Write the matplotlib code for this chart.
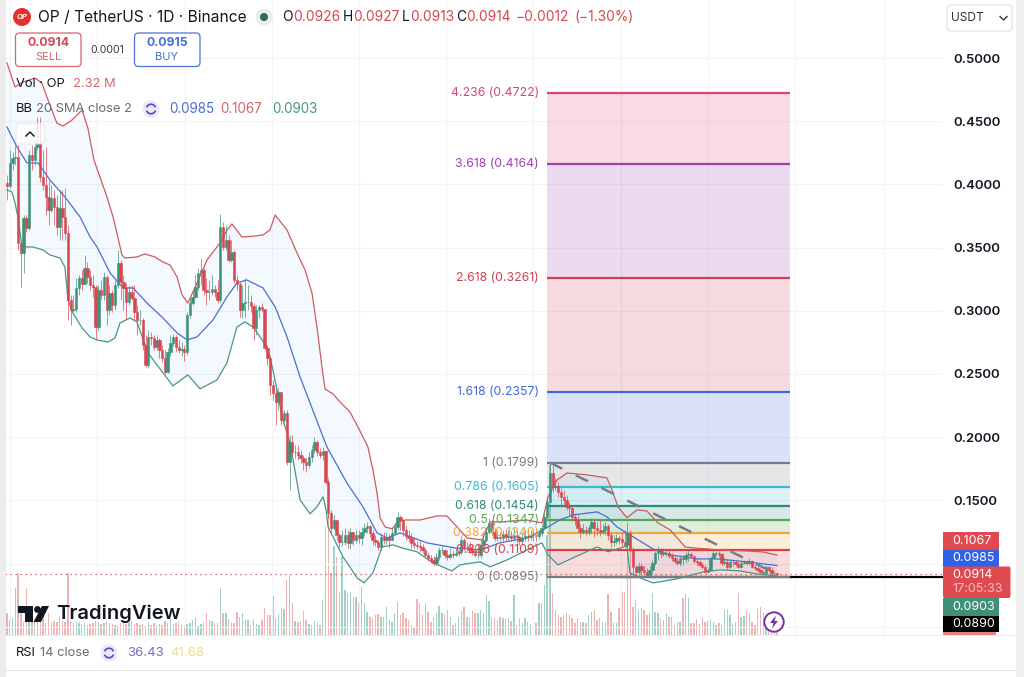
import numpy as np
import matplotlib
matplotlib.use('Agg')
import matplotlib.pyplot as plt
import matplotlib.transforms as mtransforms
from matplotlib.patches import Circle, Rectangle, FancyBboxPatch, Polygon, Arc

plt.rcParams['font.family'] = ['Inter', 'DejaVu Sans']

W, H = 1024, 677
RED = '#d7474f'
GREEN = '#3f9079'
BLUE = '#4a6fd4'

# daily candles, OP / USDT
first_open = 0.4012
closes = [
    .3987,.4169,.4209,.4217,.3537,.3457,.3734,.3655,.4233,.4193,.4296,.4328,.4059,.3995,.3900,.3798,.3893,.3821,.3663,.3813,.3742,.3616,
    .3086,.3007,.3014,.3181,.3260,.3212,.3339,.3268,.3204,.3188,.2872,.3165,.3125,.3268,.3007,.3141,.3046,.3204,.3378,.3228,.3181,.3070,
    .3149,.3102,.2991,.2927,.2927,.2730,.2571,.2793,.2785,.2714,.2769,.2690,.2627,.2516,.2674,.2745,.2793,.2714,.2690,.2698,.2674,.2967,
    .3062,.3109,.3188,.3299,.3323,.3165,.3149,.3149,.3173,.3149,.3086,.3663,.3505,.3560,.3402,.3465,.3244,.3212,.3007,.3062,.3070,.3070,
    .3038,.2864,.3007,.3030,.3014,.2706,.2627,.2413,.2350,
    .2279,.2358,.2136,.2192,.1804,.1962,.1883,.1883,.1859,.1836,.1804,.1780,.1844,.1899,.1962,.1883,.1859,.1891,.1646,.1400,.1282,.1345,
    .1226,.1171,.1171,.1226,.1163,.1250,.1187,.1226,.1203,.1250,.1282,.1298,.1242,.1187,.1171,.1131,.1211,.1187,.1211,.1187,.1242,.1290,
    .1369,.1345,.1266,
    .1218,.1203,.1163,.1147,.1139,.1131,.1108,.1068,.1044,.1029,.1005,.1052,.1108,.1108,.1068,.1052,.1076,.1068,.1084,.1092,.1187,.1131,
    .1131,.1108,.1092,.1068,.1068,.1147,.1187,.1250,.1321,.1250,.1203,.1211,.1203,.1234,.1211,.1218,.1203,.1226,.1211,.1179,.1203,.1218,
    .1211,.1226,.1226,.1218,.1242,.1282,.1369,.1487,.1717,
    .1606,.1614,.1567,.1527,.1503,.1448,.1440,.1369,.1345,.1282,.1250,.1266,.1250,.1282,.1329,.1282,.1266,.1250,.1266,.1298,.1226,.1171,
    .1179,.1203,.1195,.1171,.1147,.1242,.1116,.0973,.0934,.0981,.0950,.0934,.0910,.0950,.1005,.1084,
    .1108,.1076,.1084,.1084,.1060,.1044,.1021,.1005,.1044,.1037,.1068,.1076,.1060,.1021,.1013,.0989,.0973,.0934,.0950,.1044,.1084,.1084,
    .1076,.1005,.1013,.0973,.1013,.1013,.0997,.0973,.1005,.1013,.1005,.1021,.0973,.0965,.0950,.0934,.0926,.0973,.0950,.0926,.0926,.0914,
]
highs = [
    .4075,.4272,.4256,.4312,.4312,.3560,.3758,.3758,.4272,.4312,.4351,.4533,.4533,.4272,.4296,.4035,.3995,.3956,.3916,.3956,.3956,.3972,
    .3679,.3125,.3125,.3260,.3283,.3323,.3442,.3386,.3323,.3283,.3204,.3204,.3244,.3307,.3283,.3204,.3165,.3244,.3481,.3402,.3283,.3220,
    .3204,.3204,.3204,.3046,.3007,.2943,.2809,.2848,.2832,.2809,.2809,.2785,.2730,.2690,.2706,.2809,.2817,.2809,.2769,.2753,.2730,.2991,
    .3102,.3165,.3283,.3339,.3418,.3339,.3260,.3244,.3283,.3204,.3244,.3766,.3703,.3679,.3600,.3560,.3481,.3283,.3228,.3204,.3260,.3204,
    .3125,.3062,.3046,.3046,.3062,.3007,.2730,.2651,.2453,
    .2374,.2390,.2334,.2215,.2215,.2018,.2018,.1938,.1938,.1899,.1859,.1836,.1883,.1938,.2002,.1978,.1915,.1923,.1899,.1662,.1424,.1385,
    .1329,.1242,.1266,.1282,.1266,.1282,.1242,.1266,.1266,.1290,.1321,.1329,.1306,.1266,.1226,.1187,.1242,.1250,.1250,.1234,.1282,.1329,
    .1408,.1385,.1329,
    .1306,.1266,.1242,.1203,.1179,.1179,.1155,.1123,.1092,.1068,.1060,.1084,.1131,.1139,.1116,.1108,.1123,.1108,.1123,.1123,.1218,.1203,
    .1171,.1171,.1155,.1147,.1163,.1187,.1242,.1290,.1361,.1345,.1282,.1266,.1250,.1266,.1274,.1266,.1258,.1282,.1266,.1226,.1250,.1266,
    .1266,.1266,.1266,.1266,.1266,.1313,.1400,.1527,.1804,
    .1780,.1677,.1646,.1598,.1582,.1543,.1487,.1464,.1400,.1385,.1313,.1313,.1298,.1306,.1361,.1353,.1329,.1345,.1313,.1329,.1313,.1242,
    .1226,.1234,.1226,.1250,.1266,.1329,.1266,.1131,.0989,.1013,.1005,.0981,.0965,.0981,.1029,.1100,
    .1139,.1123,.1116,.1108,.1108,.1084,.1060,.1052,.1068,.1068,.1100,.1108,.1092,.1068,.1044,.1029,.1013,.0989,.0965,.1060,.1108,.1100,
    .1100,.1084,.1052,.1037,.1037,.1029,.1029,.1021,.1021,.1029,.1029,.1044,.1029,.0997,.0981,.0965,.0950,.0989,.0981,.0973,.0942,.0927,
]
lows = [
    .3877,.3972,.4114,.4154,.3481,.3188,.3299,.3624,.3639,.4114,.4154,.4272,.4019,.3956,.3758,.3679,.3782,.3679,.3600,.3560,.3560,.3560,
    .2927,.2888,.2991,.2991,.3125,.3165,.3228,.3220,.3165,.3109,.2769,.2848,.3086,.3086,.2888,.2967,.2991,.3007,.3181,.3086,.3007,.2927,
    .3046,.3086,.2927,.2809,.2888,.2690,.2555,.2548,.2730,.2690,.2690,.2627,.2595,.2500,.2508,.2643,.2722,.2674,.2666,.2643,.2603,.2651,
    .2943,.3046,.3102,.3165,.3204,.3125,.3046,.3086,.3125,.3109,.3062,.3070,.3481,.3481,.3386,.3386,.3220,.3165,.2951,.2943,.2951,.3007,
    .2991,.2769,.2809,.2943,.2991,.2690,.2571,.2334,.2294,
    .2097,.2215,.2097,.2120,.1780,.1582,.1851,.1836,.1820,.1796,.1741,.1725,.1757,.1804,.1875,.1851,.1836,.1820,.1630,.1361,.1242,.1266,
    .1187,.1131,.1139,.1147,.1123,.1116,.1147,.1163,.1163,.1147,.1218,.1242,.1211,.1147,.1139,.1108,.1108,.1155,.1155,.1123,.1187,.1226,
    .1266,.1266,.1218,
    .1187,.1171,.1123,.1123,.1116,.1092,.1084,.1044,.1021,.1005,.0981,.0989,.1029,.1076,.1044,.1029,.1037,.1044,.1060,.1060,.1076,.1108,
    .1100,.1084,.1068,.1052,.1044,.1044,.1100,.1171,.1234,.1226,.1179,.1179,.1179,.1179,.1179,.1179,.1179,.1187,.1163,.1147,.1155,.1179,
    .1179,.1187,.1179,.1179,.1195,.1218,.1266,.1361,.1487,
    .1567,.1582,.1527,.1464,.1464,.1424,.1385,.1345,.1306,.1250,.1203,.1234,.1226,.1226,.1242,.1211,.1226,.1218,.1234,.1226,.1187,.1131,
    .1139,.1155,.1155,.1139,.1131,.1131,.1092,.0910,.0902,.0910,.0918,.0910,.0890,.0890,.0918,.0989,
    .1029,.1044,.1060,.1060,.1044,.1021,.1005,.0989,.0981,.0989,.1005,.1021,.1044,.1005,.0989,.0981,.0957,.0926,.0926,.0950,.1037,.1060,
    .1052,.0989,.0989,.0957,.0965,.0981,.0981,.0965,.0965,.0997,.0989,.0997,.0965,.0950,.0934,.0926,.0910,.0918,.0934,.0910,.0894,.0913,
]
# volume, millions of OP
volumes = [
    4.4,3.0,3.4,9.4,12.4,4.4,2.6,9.4,3.6,3.0,3.2,3.6,2.8,4.0,2.4,4.4,2.4,2.8,2.6,3.6,
    2.8,2.6,12.4,2.8,2.4,2.6,2.4,2.2,2.4,2.0,2.2,2.4,2.8,2.6,2.2,2.4,2.8,2.4,2.2,2.0,
    1.8,2.4,2.6,2.2,2.4,2.8,2.2,2.4,2.0,2.2,1.8,2.6,2.0,2.4,1.8,2.2,2.0,2.8,2.4,3.2,
    2.2,2.4,2.6,2.0,1.8,2.2,2.4,3.0,3.6,1.8,2.2,2.6,4.4,3.0,2.8,2.4,2.4,9.4,4.4,4.4,
    3.2,2.4,2.4,4.6,3.6,4.4,3.2,3.0,2.0,3.2,2.2,2.0,3.0,5.4,4.0,4.0,7.8,3.4,4.2,5.4,
    5.2,11.0,12.0,6.4,2.8,2.6,2.8,4.8,3.0,2.2,2.0,2.8,2.4,2.0,7.0,21.6,31.6,12.4,17.8,15.6,
    8.6,15.6,9.0,8.4,8.6,7.6,7.6,6.4,9.6,6.4,4.6,3.6,3.4,4.0,4.2,3.6,3.6,5.6,3.0,2.6,
    4.4,6.6,4.0,4.4,3.4,3.0,2.0,1.6,7.2,6.4,4.0,6.4,4.6,2.6,3.6,4.4,5.8,4.4,4.2,5.0,
    3.6,2.0,2.4,3.6,4.8,5.6,3.6,3.4,4.8,4.4,4.4,5.0,4.4,8.0,6.8,3.6,3.4,3.0,3.6,3.4,
    3.4,3.4,2.8,8.0,2.0,3.4,2.4,3.4,2.6,2.2,2.4,2.4,6.4,6.4,10.0,20.0,34.0,8.4,5.0,4.0,
    3.6,4.0,4.4,4.0,3.4,2.4,3.4,2.6,2.6,2.4,4.0,4.6,5.0,3.0,3.4,2.6,2.6,8.2,4.6,2.4,
    2.4,5.4,8.6,8.6,16.4,16.4,5.6,7.0,5.0,5.4,5.0,4.0,4.4,8.4,4.6,4.4,3.4,3.0,4.4,3.6,
    3.6,2.0,2.6,2.6,7.4,8.2,7.4,2.4,2.4,3.2,2.2,3.4,2.6,2.8,3.2,2.6,2.0,2.4,2.0,5.0,
    5.2,4.0,2.4,2.6,8.4,3.6,3.8,5.0,4.4,2.6,2.0,5.4,5.6,4.4,3.0,2.0,1.0,0.6,2.32,
]

# Bollinger Bands 20 SMA, traced as (bar, price)
bb_upper_bars = [0,2.9,5.8,10.1,12.6,14.8,18,20.2,23.5,27.1,29.2,31.4,36.1,38.3,40.1,41.5,42.6,46.9,49.8,53.4,56.3,58.8,61.4,63.2,65.3,
                 68.6,72.2,76.9,79.4,81.2,84.8,89.5,92.4,94.9,96.8,101.1,104.7,107.6,110.1,111.9,113.7,114.8,117.7,120.2,123.8,126.7,
                 130.3,132.1,133.6,134.7,136.5,139,141.2,143.7,149.1,155.2,158.8,162.5,166.1,171.5,174.4,178,187.7,193.1,195.3,198.6,
                 202.2,209.4,216.6,218.4,220.6,223.8,227.4,231,235,239.4,244.8,247.7,257.4,267.1,272.9,278]
bb_upper = [.4961,.4771,.4810,.4842,.4802,.4668,.4486,.4462,.4510,.4589,.4446,.4193,.3900,.3742,.3576,.3442,.3418,.3426,.3450,.3426,.3386,.3363,.3268,.3125,.3062,
            .3220,.3402,.3537,.3639,.3687,.3584,.3592,.3600,.3639,.3758,.3639,.3457,.3323,.3141,.2872,.2556,.2382,.2342,.2279,.2200,.2081,
            .1923,.1741,.1559,.1361,.1290,.1275,.1330,.1345,.1345,.1377,.1377,.1290,.1203,.1187,.1330,.1330,.1345,.1322,.1528,.1662,
            .1717,.1702,.1678,.1583,.1449,.1362,.1425,.1417,.1322,.1267,.1132,.1124,.1108,.1100,.1092,.1067]
bb_basis_bars = [0,3.6,7.2,11.2,15.5,20.9,26.4,30,32.5,37.2,41.9,45.5,50.5,56.3,61.4,65,68.6,74.4,79.4,83,86.6,92.4,96.8,101.1,105.8,109.4,
                 114.1,115.5,122.7,128.5,133.6,137.2,141.9,151.6,161.7,170.8,178,187.7,193.5,199.6,204.3,213,216.6,220.2,224.9,233.2,
                 239.4,249.1,256.3,267.1,272.9,278]
bb_basis = [.4454,.4296,.4170,.4170,.4035,.3901,.3742,.3584,.3505,.3300,.3181,.3181,.3062,.2943,.2825,.2770,.2793,.2928,.3110,.3220,.3244,.3181,.3031,.2793,.2477,.2271,
            .2002,.1923,.1638,.1449,.1243,.1203,.1243,.1164,.1124,.1108,.1164,.1203,.1267,.1346,.1385,.1409,.1370,.1290,.1227,.1116,
            .1069,.1037,.1037,.1014,.0998,.0985]
bb_lower_bars = [0,1.8,2.9,4,5.4,9.4,13,15.5,19.1,20.9,22,23.8,27.1,30,32.5,36.5,39,40.8,44.4,46.9,50.9,56.3,59.9,65.3,69.7,75.8,79.4,83,85.9,
                 88.8,93.9,96,99.6,102.2,105.8,109.4,111.9,114.1,115.2,115.9,121.3,126.4,128.9,132.1,135.4,139.4,142.6,148,153.8,160.6,
                 163.5,170.8,174.4,180.5,189.9,193.1,195.3,198.9,204.3,213,217,223.8,224.9,230.3,233.2,241.9,251.3,257.4,264.6,270.8,278]
bb_lower = [.3956,.3940,.3853,.3734,.3505,.3505,.3481,.3442,.3418,.3347,.3086,.2983,.2864,.2793,.2769,.2753,.2785,.2904,.2943,.2912,.2667,.2509,.2406,.2493,.2382,.2453,.2588,.2872,.2912,
            .2872,.2714,.2532,.2137,.1955,.1504,.1393,.1449,.1528,.1425,.1290,.1053,.0887,.0847,.0926,.1132,.1148,.1124,.1093,.1006,.0942,
            .0990,.1014,.0974,.1029,.1132,.1164,.1069,.0990,.1045,.1132,.1093,.1140,.0926,.0871,.0847,.0879,.0934,.0950,.0942,.0918,.0903]

# Fibonacci retracement
fib_ratios = ['4.236', '3.618', '2.618', '1.618', '1', '0.786', '0.618', '0.5', '0.382', '0.236', '0']
fib_prices = [0.4722, 0.4164, 0.3261, 0.2357, 0.1799, 0.1605, 0.1454, 0.1347, 0.1240, 0.1109, 0.0895]
fib_colors = ['#dc4274', '#9c3fb0', '#cf4050', '#3f68e0', '#787b86', '#3fb8d0', '#2f8a78', '#56a84e', '#f0a63a', '#dc4048', '#787b86']
fib_start, fib_end = 195, 282.7

trend_bars = [196, 279]
trend_prices = [0.1799, 0.0905]
low_ray_bar = 215
low_ray_price = 0.0890

grid_bars = [1, 32.5, 64.3, 95.7, 127, 158.5, 190, 221.7, 253, 284.5, 316.5]
price_ticks = [0.05, 0.10, 0.15, 0.20, 0.25, 0.30, 0.35, 0.40, 0.45, 0.50]
# the two lowest grid levels sit behind the price tags and carry no label
tick_labels = ['', '', '0.1500', '0.2000', '0.2500', '0.3000', '0.3500', '0.4000', '0.4500', '0.5000']

bars = np.arange(len(closes))
closes = np.array(closes)
highs = np.array(highs)
lows = np.array(lows)
opens = np.concatenate([[first_open], closes[:-1]])
is_up = closes >= opens

fig = plt.figure(figsize=(W / 100, H / 100), dpi=100, facecolor='white')
# everything on top of the chart is placed in screen pixels, y down
px = mtransforms.Affine2D().scale(1, -1).translate(0, H)

ax = fig.add_axes([0, (H - 635) / H, 943 / W, 635 / H])
ax.set_xlim(-7 / 2.77, 936 / 2.77)
ax.set_ylim(0.0435, 0.5459)
ax.set_zorder(2)
ax.patch.set_visible(False)
for s in ax.spines.values():
    s.set_visible(False)
ax.set_axisbelow(True)

ax_vol = ax.twinx()
ax_vol.set_ylim(0, 127)
ax_vol.set_zorder(1)
ax_vol.axis('off')
vol_colors = ['#a3d0c5' if u else '#eeb3b3' for u in is_up]
ax_vol.bar(bars, volumes, width=0.5, color=vol_colors, linewidth=0)

# twinx moves the main ticks to the left, so the scale is set up after it
ax.set_xticks(grid_bars)
ax.set_yticks(price_ticks)
ax.set_yticklabels(tick_labels, fontsize=9.5, fontweight='semibold', color='#131722')
ax.yaxis.tick_right()
ax.tick_params(axis='both', length=0, pad=7.5)
ax.tick_params(axis='x', labelbottom=False)
ax.grid(True, color='#f1f3f6', lw=0.8)

# fib bands and levels
for i in range(len(fib_prices) - 1):
    ax.fill_between([fib_start, fib_end], fib_prices[i + 1], fib_prices[i], color=fib_colors[i], alpha=0.19, lw=0, zorder=1)
for r, p, c in zip(fib_ratios, fib_prices, fib_colors):
    ax.plot([fib_start, fib_end], [p, p], color=c, lw=1.6, zorder=2, solid_capstyle='butt')
    ax.text(192, p, '%s (%.4f)' % (r, p), color=c, fontsize=8.8, ha='right', va='center', zorder=9)

ax.plot([low_ray_bar, 338], [low_ray_price, low_ray_price], color='black', lw=1.6, zorder=1.5)
ax.axhline(closes[-1], color=RED, lw=0.9, ls=(0, (1, 3)), zorder=2)

# bands
ax.fill(bb_upper_bars + bb_lower_bars[::-1], bb_upper + bb_lower[::-1], color='#2196f3', alpha=0.05, lw=0, zorder=1.2)
ax.plot(bb_upper_bars, bb_upper, color='#cf5a5e', lw=0.9, zorder=3)
ax.plot(bb_basis_bars, bb_basis, color=BLUE, lw=0.9, zorder=3)
ax.plot(bb_lower_bars, bb_lower, color='#4b9680', lw=0.9, zorder=3)

# candles
candle_colors = [GREEN if u else RED for u in is_up]
ax.vlines(bars, lows, highs, colors=candle_colors, lw=0.7, alpha=0.7, zorder=4)
ax.bar(bars, np.abs(closes - opens), bottom=np.minimum(opens, closes), width=0.85,
       color=candle_colors, edgecolor=candle_colors, linewidth=0.4, zorder=5)

ax.plot(trend_bars, trend_prices, color='#7c7e86', lw=1.8, ls=(0, (5.5, 6)), zorder=6)


def label(x, y, s, color='#131722', size=9.5, ha='left', weight='normal', **kw):
    fig.text(x, y, s, transform=px, color=color, fontsize=size, ha=ha, va='center', fontweight=weight, zorder=20, **kw)


def rect(x0, y0, x1, y1, color):
    fig.add_artist(Rectangle((x0, y0), x1 - x0, y1 - y0, transform=px, facecolor=color, edgecolor='none', zorder=12))


def rounded(x0, y0, x1, y1, edge, face='white', radius=4, alpha=1, lw=0.9):
    fig.add_artist(FancyBboxPatch((x0, y0), x1 - x0, y1 - y0, boxstyle='round,pad=0,rounding_size=%d' % radius,
                                  transform=px, facecolor=face, edgecolor=edge, lw=lw, alpha=alpha, zorder=13))


def sync_icon(cx, cy):
    fig.add_artist(Circle((cx, cy), 8.5, transform=px, facecolor='#ece8fa', edgecolor='none', zorder=13))
    fig.add_artist(Arc((cx, cy), 9.5, 9.5, theta1=200, theta2=340, transform=px, color='#5a45c8', lw=1.2, zorder=14))
    fig.add_artist(Arc((cx, cy), 9.5, 9.5, theta1=20, theta2=160, transform=px, color='#5a45c8', lw=1.2, zorder=14))


# window edges and pane separators
rect(0, 0, 5.5, H, '#ececec')
rect(1016, 0, W, H, '#f0f0f0')
rect(6, 634.5, 1016, 635.5, '#ebebeb')
rect(6, 670, 1016, 671, '#e6e6e6')

# header
fig.add_artist(Circle((22, 17), 9, transform=px, facecolor='#e5322d', edgecolor='none', zorder=13))
label(22, 17, 'OP', color='white', size=5.5, ha='center', weight='bold', style='italic')
label(38, 17, 'OP / TetherUS · 1D · Binance', size=11.2)
fig.add_artist(Circle((264, 17), 8.5, transform=px, facecolor='#e4efe9', edgecolor='none', zorder=13))
fig.add_artist(Circle((264, 17), 4, transform=px, facecolor='#2c6a54', edgecolor='none', zorder=14))
for x, s, c in [(282, 'O', '#131722'), (293, '0.0926', RED), (343, 'H', '#131722'), (353, '0.0927', RED),
                (402, 'L', '#131722'), (410, '0.0913', RED), (456, 'C', '#131722'), (466, '0.0914', RED),
                (516, '−0.0012', RED), (575, '(−1.30%)', RED)]:
    label(x, 17, s, color=c, size=9.9)

rounded(15.5, 33, 81, 66.5, '#d8666a')
label(48, 43.5, '0.0914', color=RED, size=8.8, ha='center', weight='bold')
label(48, 57.5, 'SELL', color='#d8666a', size=8, ha='center')
label(107, 50, '0.0001', color='#333640', size=7.6, ha='center')
rounded(134.5, 33, 200, 66.5, '#4f74d2')
label(167, 43.5, '0.0915', color=BLUE, size=8.8, ha='center', weight='bold')
label(167, 57.5, 'BUY', color=BLUE, size=8, ha='center')

label(16, 84, 'Vol · OP', size=9.3)
label(73, 84, '2.32 M', color='#d8666a', size=9.3)
label(16, 109, 'BB', size=9.3)
label(36, 109, '20 SMA close 2', color='#6a6d78', size=9.3)
sync_icon(151, 109)
label(169, 109, '0.0985', color=BLUE, size=9.7)
label(220, 109, '0.1067', color='#d8666a', size=9.7)
label(272, 109, '0.0903', color='#4b9680', size=9.7)

# collapse button
rounded(16, 123.5, 44.5, 144, '#e8e8e8', face='white', alpha=0.75)
fig.add_artist(plt.Line2D([26, 30, 34], [136, 132, 136], transform=px, color='#222222', lw=1.1, zorder=14))

# currency selector
rounded(947, 5, 1012, 31, '#e0e3eb')
label(951, 18, 'USDT', size=8.6, color='#333640')
fig.add_artist(plt.Line2D([1000, 1003.5, 1007], [16.5, 20, 16.5], transform=px, color='#333640', lw=1, zorder=14))

# price tags on the scale
rect(943, 632, 996, 635, '#e8807f')
for y0, y1, x1, s, c in [(532, 549.5, 999, '0.1067', '#df4a50'), (550, 566.5, 999, '0.0985', '#2f62e6'),
                         (598, 615.5, 999, '0.0903', '#3f9079'), (616, 632, 999, '0.0890', '#000000')]:
    rect(943, y0, x1, y1, c)
    label(952, (y0 + y1) / 2, s, color='white', size=9)
rounded(943, 566.5, 1010.5, 598, 'none', face='#df4a50', radius=2, lw=0)
label(952, 575, '0.0914', color='white', size=9)
label(952, 589, '17:05:33', color='#f6bcbc', size=9)

# TradingView mark
fig.add_artist(Polygon([(18, 606), (33, 606), (33, 622), (25, 622), (25, 613), (18, 613)], transform=px, facecolor='#131722', zorder=13))
fig.add_artist(Circle((37.5, 609.5), 3.4, transform=px, facecolor='#131722', zorder=13))
fig.add_artist(Polygon([(42, 606), (49, 606), (41, 622), (33.5, 622)], transform=px, facecolor='#131722', zorder=13))
label(56, 614, 'TradingView', size=14.5, weight='semibold', color='#131722')

# lightning badge
fig.add_artist(Circle((774, 622), 9.7, transform=px, facecolor='white', edgecolor='#7b2fa0', lw=1.4, zorder=13))
fig.add_artist(Polygon([(776, 615.5), (770, 623), (773.5, 623), (772, 628.5), (778, 621), (774.5, 621)], transform=px, facecolor='#7b2fa0', zorder=14))

# RSI legend
label(16, 653, 'RSI', size=9.3)
label(40, 653, '14 close', color='#6a6d78', size=9.3)
sync_icon(109, 653)
label(127, 653, '36.43', color='#7e6cc4', size=9.6)
label(170, 653, '41.68', color='#f0dc88', size=9.6)

fig.savefig('out.png', dpi=100)
